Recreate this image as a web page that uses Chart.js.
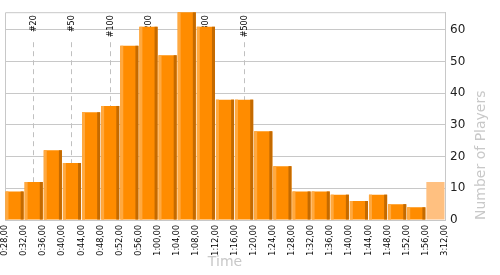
<!DOCTYPE html>
<html><head><meta charset="utf-8">
<script src="https://cdn.jsdelivr.net/npm/chart.js@4/dist/chart.umd.min.js"></script>
<style>html,body{margin:0;padding:0;background:#fff}canvas{display:block}</style>
</head><body>
<canvas id="c" width="500" height="275"></canvas>
<script>
// bin boundaries (tick labels on the time axis)
const timeLabels = ["0:28,00","0:32,00","0:36,00","0:40,00","0:44,00","0:48,00","0:52,00","0:56,00","1:00,00","1:04,00","1:08,00","1:12,00","1:16,00","1:20,00","1:24,00","1:28,00","1:32,00","1:36,00","1:40,00","1:44,00","1:48,00","1:52,00","1:56,00","3:12,00"];
// bins (one per bar)
const bins = timeLabels.slice(0, -1);
// number of players per bin
const players = [9,12,22,18,34,36,55,61,52,66,61,38,38,28,17,9,9,8,6,8,5,4,12];
// rank markers (position in bin units along the time axis)
const markerLabels = ["#20","#50","#100","#200","#300","#500"];
const markerPos = [1.46,3.45,5.49,7.47,10.45,12.49];
const yTicks = [0,10,20,30,40,50,60];

const ORANGE = "#FF8C00", LIGHT = "#FFA940", DARK = "#C46A00", PEACH = "#FFC080", GRID = "#c8c8c8";
const lastIdx = players.length - 1;

const decor = {
  id: "decor",
  beforeDatasetsDraw(chart) {
    const {ctx, chartArea: a} = chart;
    const xs = chart.scales.xTicks;
    ctx.save();
    ctx.strokeStyle = GRID; ctx.lineWidth = 1;
    ctx.beginPath();
    ctx.moveTo(a.left + 0.5, a.bottom); ctx.lineTo(a.left + 0.5, a.top + 0.5);
    ctx.lineTo(a.right, a.top + 0.5);
    ctx.stroke();
    // rank markers
    ctx.setLineDash([5, 4]);
    ctx.strokeStyle = "#c0c0c0";
    markerPos.forEach((p, i) => {
      const x = Math.round(xs.getPixelForValue(p)) + 0.5;
      ctx.beginPath(); ctx.moveTo(x, a.top + 30); ctx.lineTo(x, a.bottom); ctx.stroke();
      ctx.save();
      ctx.translate(x, a.top + 3);
      ctx.rotate(-Math.PI / 2);
      ctx.fillStyle = "#000"; ctx.font = "8px 'DejaVu Sans'";
      ctx.textAlign = "right"; ctx.textBaseline = "middle";
      ctx.fillText(markerLabels[i], 0, 0);
      ctx.restore();
    });
    ctx.restore();
  },
  afterDatasetsDraw(chart) {
    const {ctx, chartArea: a} = chart;
    const meta = chart.getDatasetMeta(0);
    ctx.save();
    ctx.beginPath(); ctx.rect(a.left, a.top, a.right - a.left, a.bottom - a.top); ctx.clip();
    meta.data.forEach((bar, i) => {
      if (i === lastIdx) return;
      const l = bar.x - bar.width / 2, r = bar.x + bar.width / 2;
      const top = Math.max(bar.y, a.top), h = bar.base - top;
      ctx.fillStyle = LIGHT; ctx.fillRect(l, top, 3, h);
      ctx.fillStyle = DARK; ctx.fillRect(r - 3, top, 3, h);
    });
    ctx.restore();
    ctx.save();
    ctx.translate(481, a.bottom);
    ctx.rotate(-Math.PI / 2);
    ctx.fillStyle = GRID; ctx.font = "14px 'DejaVu Sans'";
    ctx.textAlign = "left"; ctx.textBaseline = "middle";
    ctx.fillText("Number of Players", 0, 0);
    ctx.restore();
  }
};

new Chart(document.getElementById("c"), {
  type: "bar",
  data: {
    labels: bins,
    datasets: [{
      data: players,
      xAxisID: "x", yAxisID: "y",
      backgroundColor: c => c.dataIndex === lastIdx ? PEACH : ORANGE,
      borderWidth: 0,
      barPercentage: 0.95, categoryPercentage: 1
    }]
  },
  options: {
    responsive: false, animation: false, devicePixelRatio: 1,
    layout: {padding: {left: 5, top: 10, right: 0, bottom: 0}},
    plugins: {legend: {display: false}, tooltip: {enabled: false}},
    scales: {
      x: {type: "category", display: false, offset: true},
      xTicks: {
        type: "linear", position: "bottom", min: 0, max: bins.length, offset: false,
        grid: {display: false, drawTicks: false, offset: false}, border: {display: false},
        ticks: {
          stepSize: 1, autoSkip: false, maxRotation: 90, minRotation: 90, padding: 5,
          color: "#000", font: {family: "'DejaVu Sans'", size: 8},
          callback: v => timeLabels[v]
        },
        title: {display: true, text: "Time", color: GRID, font: {family: "'DejaVu Sans'", size: 14}, padding: 4},
        afterFit: s => { s.height = 55; }
      },
      y: {
        position: "right", min: 0, max: 65.6,
        afterBuildTicks: s => { s.ticks = yTicks.map(v => ({value: v})); },
        grid: {color: GRID, lineWidth: 1, drawTicks: false},
        border: {display: true, color: GRID},
        ticks: {padding: 5, color: "#222", font: {family: "'DejaVu Sans'", size: 12}},
        afterFit: s => { s.width = 55; }
      }
    }
  },
  plugins: [decor]
});
</script>
</body></html>
